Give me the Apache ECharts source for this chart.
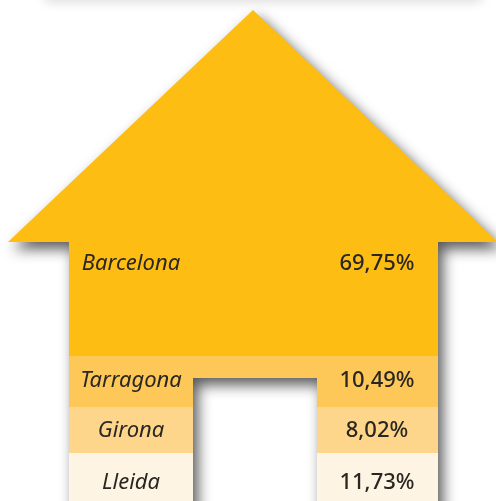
<!DOCTYPE html>
<html>
<head>
<meta charset="utf-8">
<script src="https://cdn.jsdelivr.net/npm/echarts@6/dist/echarts.min.js"></script>
<style>html,body{margin:0;padding:0;background:#fff}#c{width:496px;height:501px}</style>
</head>
<body>
<div id="c"></div>
<script>
// ---- data ----
const cities = ['Barcelona', 'Tarragona', 'Girona', 'Lleida'];
const shares = [69.75, 10.49, 8.02, 11.73];

// ---- style / layout (not data) ----
const palette = ['#FDBD13', '#FEC858', '#FED68B', '#FEF4E4'];
const L = {
  apexX: 253, apexY: 10, eaveL: 8, eaveR: 498, eaveY: 242,
  bodyL: 69, bodyR: 438, doorL: 193, doorR: 317, doorTop: 378,
  bands: [242, 356, 407, 453, 540],
  labelY: [264, 381, 431, 483],
  labelX: 131, valueX: 377
};

const fmt = v => v.toFixed(2).replace('.', ',') + '%';

const chart = echarts.init(document.getElementById('c'));

function renderItem(params, api) {
  const i = params.dataIndex;
  const p = (x, y) => api.coord([x, y]);
  const children = [];
  if (i === 0) {
    const pts = [
      [L.apexX, L.apexY], [L.eaveR, L.eaveY], [L.bodyR, L.eaveY], [L.bodyR, 540],
      [L.doorR, 540], [L.doorR, L.doorTop], [L.doorL, L.doorTop], [L.doorL, 540],
      [L.bodyL, 540], [L.bodyL, L.eaveY], [L.eaveL, L.eaveY]
    ].map(q => p(q[0], q[1]));
    children.push({
      type: 'polygon', shape: { points: pts },
      style: { fill: palette[0], shadowBlur: 14, shadowColor: 'rgba(0,0,0,0.65)', shadowOffsetX: 5, shadowOffsetY: 7 }
    });
  } else {
    const top = L.bands[i], bot = L.bands[i + 1];
    const rect = (x0, y0, x1, y1) => {
      const a = p(x0, y0), b = p(x1, y1);
      children.push({ type: 'rect', shape: { x: a[0], y: a[1], width: b[0] - a[0], height: b[1] - a[1] }, style: { fill: palette[i] } });
    };
    if (top < L.doorTop) rect(L.doorL, top, L.doorR, Math.min(bot, L.doorTop));
    rect(L.bodyL, top, L.doorL, bot);
    rect(L.doorR, top, L.bodyR, bot);
  }
  const ly = L.labelY[i];
  const lp = p(L.labelX, ly), vp = p(L.valueX, ly);
  children.push({
    type: 'text', x: lp[0], y: lp[1],
    style: { text: api.value(0), align: 'center', verticalAlign: 'middle', fontFamily: 'Noto Sans', fontStyle: 'italic', fontSize: 22, fill: '#2a2622' }
  });
  children.push({
    type: 'text', x: vp[0], y: vp[1],
    style: { text: fmt(api.value(1)), align: 'center', verticalAlign: 'middle', fontFamily: 'Noto Sans', fontWeight: 500, fontSize: 22, fill: '#2a2622' }
  });
  return { type: 'group', children };
}

chart.setOption({
  animation: false,
  grid: { left: 0, right: 0, top: 0, bottom: 0 },
  xAxis: { type: 'value', min: 0, max: 496, show: false },
  yAxis: { type: 'value', min: 0, max: 501, inverse: true, show: false },
  graphic: [{
    type: 'rect', shape: { x: 43, y: -40, width: 440, height: 40, r: 8 },
    style: { fill: '#fff', shadowBlur: 12, shadowColor: 'rgba(0,0,0,0.14)', shadowOffsetY: 2 }
  }],
  series: [{
    type: 'custom', silent: true, clip: false,
    renderItem,
    encode: { x: -1, y: -1 },
    data: cities.map((c, k) => [c, shares[k]])
  }]
});
</script>
</body>
</html>
